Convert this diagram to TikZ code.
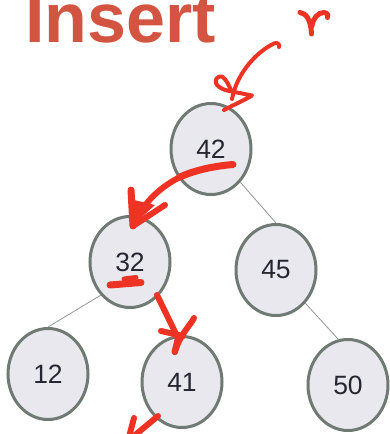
\documentclass[tikz,border=0pt]{standalone}
\usepackage{fontspec}
\setmainfont{Liberation Sans}
\usetikzlibrary{shapes.geometric}
\definecolor{titlered}{RGB}{211,84,64}
\definecolor{ink}{RGB}{238,50,36}
\definecolor{nodefill}{RGB}{232,232,238}
\definecolor{nodeborder}{RGB}{110,122,114}
\definecolor{edgegray}{RGB}{140,152,146}
\definecolor{numtext}{RGB}{38,38,50}
\begin{document}
\begin{tikzpicture}[x=1pt,y=-1pt,
  bstnode/.style={ellipse, draw=nodeborder, line width=3pt, fill=nodefill,
    minimum width=80pt, minimum height=91pt, inner sep=0pt, text=numtext,
    font=\fontsize{26.5}{30}\selectfont},
  treeedge/.style={draw=edgegray, line width=0.8pt},
  pen/.style={draw=ink, line width=5pt, line cap=round, line join=round}]
\useasboundingbox (0,0) rectangle (390,434);
\clip (0,0) rectangle (390,434);
% title
\node[anchor=base west, inner sep=0pt, text=titlered,
      font=\fontsize{70}{72}\selectfont\bfseries] (title) at (25,42) {Insert};
% nodes
\node[bstnode] (n42) at (211,149) {42};
\node[bstnode] (n32) at (130,262) {32};
\node[bstnode] (n45) at (276,270) {45};
\node[bstnode] (n12) at (48,374) {12};
\node[bstnode] (n41) at (182,382) {41};
\node[bstnode] (n50) at (348,385) {50};
% edges
\draw[treeedge] (n42.south east) -- (n45.north);
\draw[treeedge] (n32.south west) -- (n12.north);
\draw[treeedge] (n45.south east) -- (n50.102);
% red handwriting: "r"
\draw[pen, line width=5pt] (300,12.5) .. controls (306,13) and (311,20) .. (311.5,34);
\draw[pen, line width=5pt] (312,26) .. controls (313,18) and (318,12.5) .. (324,12.5)
   .. controls (328,13) and (329,16) .. (327.5,17.5);
% curved arrow into 42
\draw[pen, line width=4pt] (279,47) .. controls (280,44) and (277,42) .. (274,43.5)
   .. controls (258,51) and (237,72) .. (232,99);
\draw[pen, line width=4pt] (231,90) .. controls (227,81) and (223,75) .. (219.5,76.5)
   .. controls (213,79) and (214,87) .. (227,90.5) -- (252,95.5)
   .. controls (245,100) and (235,104) .. (224,110);
% arrow 42 -> 32
\draw[pen, line width=7pt] (233,164.5) .. controls (215,166) and (195,170) .. (180,177);
\draw[pen, line width=6pt] (182,176) .. controls (162,186) and (145,200) .. (133,225);
\draw[pen, line width=7pt] (131,190) -- (133,226);
\draw[pen, line width=6pt] (133,226) -- (165,205);
\fill[ink] (132,226) -- (134,200) -- (155,205) -- cycle;
% dash under 32
\draw[pen, line width=7pt] (110,285) -- (141,282.5);
\draw[pen, line width=5pt] (124,279) -- (136,277.5);
% arrow 32 -> 41
\draw[pen, line width=6pt] (157,295) -- (178,338);
\draw[pen, line width=6pt] (161,331) -- (183,336);
\draw[pen, line width=6pt] (194,318) .. controls (190,326) and (180,334) .. (175,352);
\draw[pen, line width=6pt] (178,338) -- (174.5,352);
% arrow out of 41
\draw[pen, line width=6pt] (158,416) -- (134,436);
\draw[pen, line width=6pt] (134,418) -- (129,437);
\end{tikzpicture}
\end{document}
